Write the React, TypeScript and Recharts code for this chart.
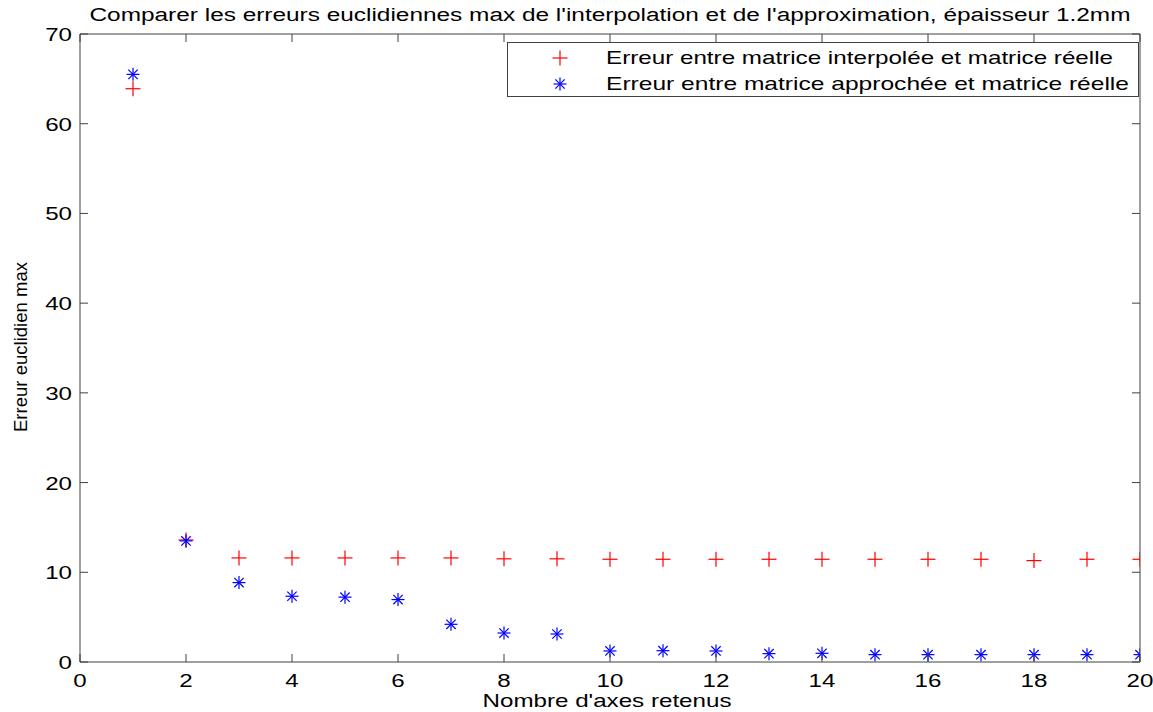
import React from 'react';
import { ScatterChart, Scatter, XAxis, YAxis, Legend } from 'recharts';

// nombre d'axes retenus
const axes = [1, 2, 3, 4, 5, 6, 7, 8, 9, 10, 11, 12, 13, 14, 15, 16, 17, 18, 19, 20];
// erreur max, matrice interpolée vs réelle
const erreurInterpolee = [63.9, 13.6, 11.6, 11.6, 11.6, 11.6, 11.6, 11.5, 11.5, 11.45, 11.45, 11.45, 11.45, 11.45, 11.45, 11.45, 11.45, 11.3, 11.45, 11.45];
// erreur max, matrice approchée vs réelle
const erreurApprochee = [65.5, 13.5, 8.85, 7.33, 7.23, 6.96, 4.2, 3.23, 3.12, 1.23, 1.26, 1.23, 0.93, 0.97, 0.82, 0.82, 0.82, 0.82, 0.82, 0.82];

const xTicks = [0, 2, 4, 6, 8, 10, 12, 14, 16, 18, 20];
const yTicks = [0, 10, 20, 30, 40, 50, 60, 70];

const TITRE = "Comparer les erreurs euclidiennes max de l'interpolation et de l'approximation, épaisseur 1.2mm";
const LABEL_X = "Nombre d'axes retenus";
const LABEL_Y = 'Erreur euclidien max';
const LEGENDE = ['Erreur entre matrice interpolée et matrice réelle', 'Erreur entre matrice approchée et matrice réelle'];

const dataInterpolee = axes.map((x, i) => ({ x, y: erreurInterpolee[i] }));
const dataApprochee = axes.map((x, i) => ({ x, y: erreurApprochee[i] }));

const FONT = '"Liberation Sans", Arial, sans-serif';
const AXIS = '#404040';
const STRETCH = 1.27;

// marqueurs façon matlab
const Plus = ({ cx, cy, s = 7.5 }: any) => (
  <g stroke="#ff0000" strokeWidth={1.2}>
    <line x1={cx - s} y1={cy} x2={cx + s} y2={cy} />
    <line x1={cx} y1={cy - s} x2={cx} y2={cy + s} />
  </g>
);

const Star = ({ cx, cy, s = 6.5 }: any) => {
  const d = s * 0.72;
  return (
    <g stroke="#0000ff" strokeWidth={1.2}>
      <line x1={cx - s} y1={cy} x2={cx + s} y2={cy} />
      <line x1={cx} y1={cy - s} x2={cx} y2={cy + s} />
      <line x1={cx - d} y1={cy - d} x2={cx + d} y2={cy + d} />
      <line x1={cx - d} y1={cy + d} x2={cx + d} y2={cy - d} />
    </g>
  );
};

const makeTick = (side: string) => (props: any) => {
  const { x, y, payload } = props;
  const t = 8;
  if (side === 'bottom') {
    return (
      <g>
        <line x1={x} y1={y} x2={x} y2={y - t} stroke={AXIS} />
        <text transform={`translate(${x},${y + 25}) scale(${STRETCH},1)`} textAnchor="middle" fontSize={19} fontFamily={FONT} fill="#000">
          {payload.value}
        </text>
      </g>
    );
  }
  if (side === 'left') {
    return (
      <g>
        <line x1={x} y1={y} x2={x + t} y2={y} stroke={AXIS} />
        <text transform={`translate(${x - 8},${y + 7}) scale(${STRETCH},1)`} textAnchor="end" fontSize={19} fontFamily={FONT} fill="#000">
          {payload.value}
        </text>
      </g>
    );
  }
  if (side === 'top') return <line x1={x} y1={y} x2={x} y2={y + t} stroke={AXIS} />;
  return <line x1={x} y1={y} x2={x - t} y2={y} stroke={AXIS} />;
};

const TitleLabel = (props: any) => {
  const vb = props.viewBox || { x: 80, y: 33, width: 1060 };
  return (
    <text x={vb.x + vb.width / 2} y={21} textAnchor="middle" fontSize={18} fontFamily={FONT} fill="#000" textLength={1041} lengthAdjust="spacingAndGlyphs">
      {TITRE}
    </text>
  );
};

const XLabel = (props: any) => {
  const vb = props.viewBox || { x: 80, y: 662, width: 1060 };
  return (
    <text x={vb.x + vb.width / 2 - 3} y={707} textAnchor="middle" fontSize={19} fontFamily={FONT} fill="#000" textLength={249} lengthAdjust="spacingAndGlyphs">
      {LABEL_X}
    </text>
  );
};

const YLabel = (props: any) => {
  const vb = props.viewBox || { x: 79, y: 34, height: 628 };
  const cy = vb.y + vb.height / 2 - 1;
  return (
    <text x={27} y={cy} transform={`rotate(-90, 27, ${cy})`} textAnchor="middle" fontSize={18.5} fontFamily={FONT} fill="#000" textLength={170} lengthAdjust="spacingAndGlyphs">
      {LABEL_Y}
    </text>
  );
};

const LegendBox = () => (
  <svg width={633} height={56} style={{ display: 'block' }}>
    <rect x={0.5} y={0.5} width={631} height={54} fill="#fff" stroke={AXIS} />
    <Plus cx={53} cy={16} />
    <text x={99} y={22} fontSize={19} fontFamily={FONT} fill="#000" textLength={507} lengthAdjust="spacingAndGlyphs">
      {LEGENDE[0]}
    </text>
    <Star cx={53} cy={42} />
    <text x={99} y={48} fontSize={19} fontFamily={FONT} fill="#000" textLength={523} lengthAdjust="spacingAndGlyphs">
      {LEGENDE[1]}
    </text>
  </svg>
);

export default function App() {
  return (
    <div style={{ position: 'absolute', left: 0, top: 0, width: 1153, height: 712, background: '#fff' }}>
      <ScatterChart width={1153} height={712} margin={{ top: 33, right: 12, bottom: 49, left: 79 }}>
        <XAxis
          xAxisId="bottom"
          type="number"
          dataKey="x"
          domain={[0, 20]}
          ticks={xTicks}
          allowDataOverflow
          height={1}
          tickSize={0}
          tickMargin={0}
          tick={makeTick('bottom')}
          axisLine={{ stroke: AXIS }}
          interval={0}
          label={{ content: XLabel }}
        />
        <XAxis
          xAxisId="top"
          orientation="top"
          type="number"
          dataKey="x"
          domain={[0, 20]}
          ticks={xTicks}
          allowDataOverflow
          height={1}
          tickSize={0}
          tickMargin={0}
          tick={makeTick('top')}
          axisLine={{ stroke: AXIS }}
          interval={0}
          label={{ content: TitleLabel }}
        />
        <YAxis
          yAxisId="left"
          type="number"
          dataKey="y"
          domain={[0, 70]}
          ticks={yTicks}
          allowDataOverflow
          width={1}
          tickSize={0}
          tickMargin={0}
          tick={makeTick('left')}
          axisLine={{ stroke: AXIS }}
          interval={0}
          label={{ content: YLabel }}
        />
        <YAxis
          yAxisId="right"
          orientation="right"
          type="number"
          dataKey="y"
          domain={[0, 70]}
          ticks={yTicks}
          allowDataOverflow
          width={1}
          tickSize={0}
          tickMargin={0}
          tick={makeTick('right')}
          axisLine={{ stroke: AXIS }}
          interval={0}
        />
        <Legend
          layout="horizontal"
          verticalAlign="middle"
          align="center"
          content={LegendBox}
          wrapperStyle={{ position: 'absolute', top: 42, left: 507, width: 633, height: 56, right: 'auto', bottom: 'auto' }}
        />
        <Scatter
          name={LEGENDE[0]}
          data={dataInterpolee}
          xAxisId="bottom"
          yAxisId="left"
          shape={(p: any) => <Plus cx={p.cx} cy={p.cy} />}
          isAnimationActive={false}
        />
        <Scatter
          name={LEGENDE[1]}
          data={dataApprochee}
          xAxisId="bottom"
          yAxisId="left"
          shape={(p: any) => <Star cx={p.cx} cy={p.cy} />}
          isAnimationActive={false}
        />
      </ScatterChart>
    </div>
  );
}
